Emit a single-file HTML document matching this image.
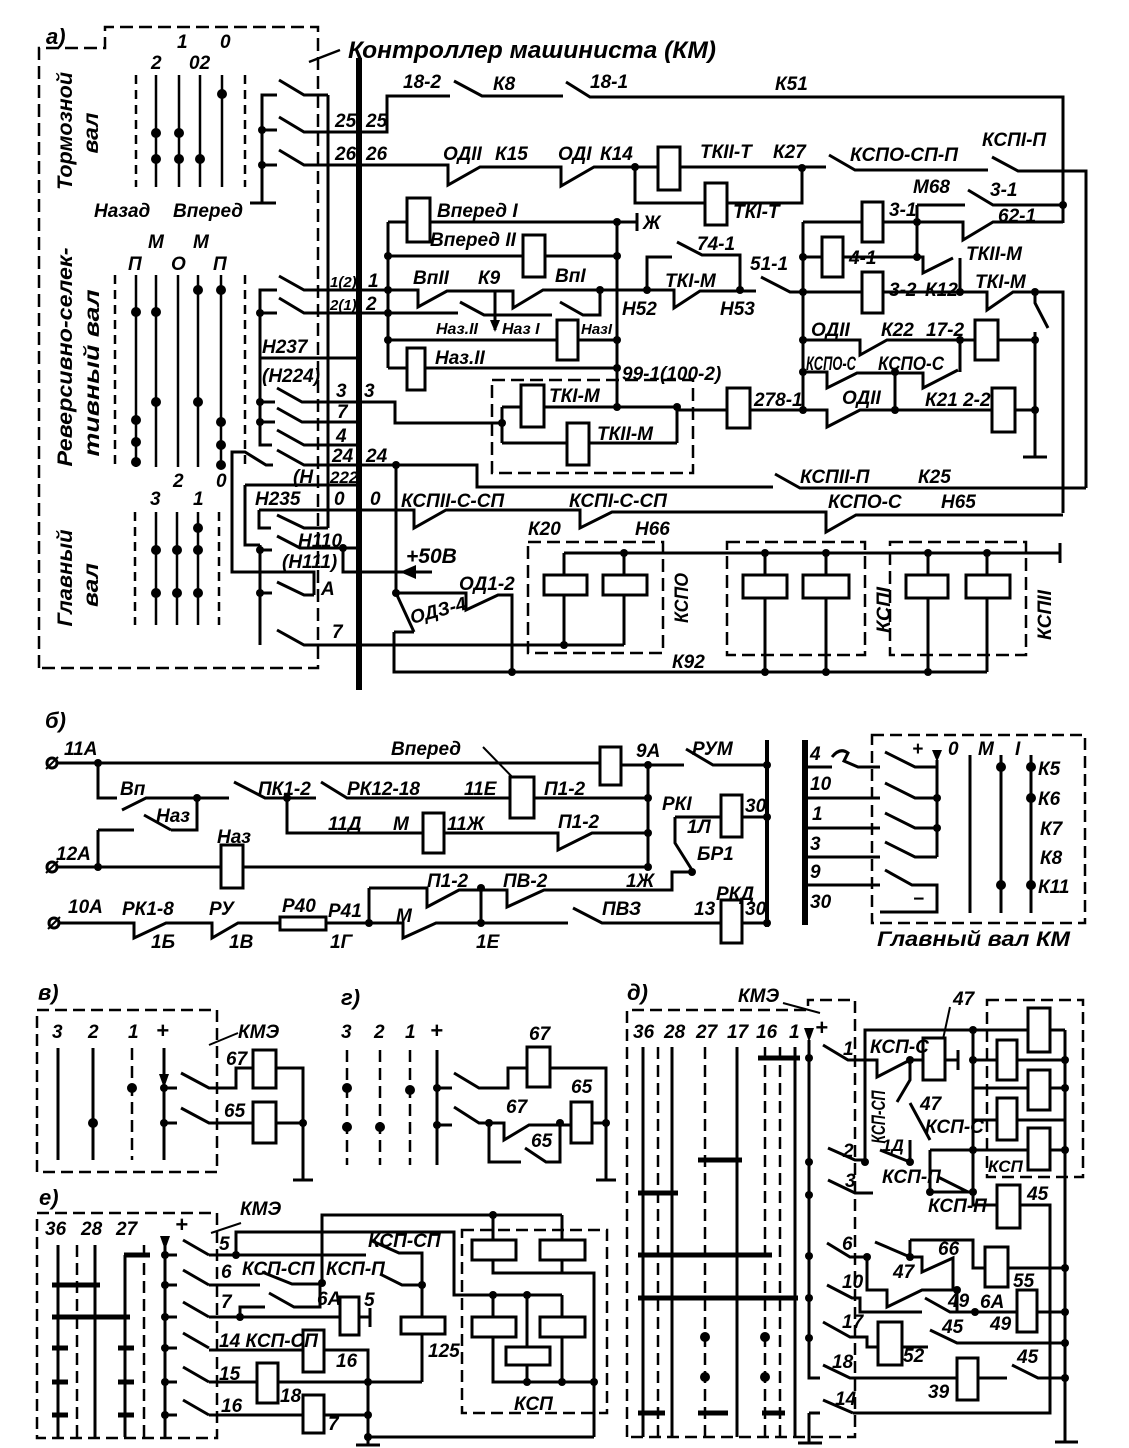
<!DOCTYPE html>
<html><head><meta charset="utf-8">
<style>
html,body{margin:0;padding:0;background:#fff;}
svg{display:block;}
text{font-family:"Liberation Sans","DejaVu Sans",sans-serif;font-style:italic;font-weight:bold;fill:#000;font-size:19px;}
.b{font-size:22px;}
</style></head><body>
<svg width="1129" height="1448" viewBox="0 0 1129 1448" xmlns="http://www.w3.org/2000/svg">
<rect width="1129" height="1448" fill="#fff"/>

<!-- ================= SECTION A ================= -->
<g fill="none" stroke="#000" stroke-width="2.5" stroke-dasharray="13 6">
  <path d="M39,668 V48 H105 V27 H318 V668 Z"/>
  <rect x="492" y="380" width="201" height="93"/>
  <rect x="528" y="542" width="135" height="111"/>
  <rect x="727" y="542" width="138" height="113"/>
  <rect x="890" y="542" width="136" height="113"/>
</g>
<g fill="none" stroke="#000" stroke-width="2.5" stroke-dasharray="9 6">
  <path d="M136,75V187 M245,75V187 M115,275V467 M245,275V467 M135,512V625 M219,512V625"/>
</g>
<g fill="none" stroke="#000" stroke-width="2.5">
  <path d="M156,75V187 M179,75V187 M200,75V187 M222,75V187"/>
  <path d="M136,275V467 M156,275V467 M178,275V467 M198,275V467 M221,275V467"/>
  <path d="M156,512V625 M177,512V625 M198,512V625"/>
  <path d="M309,62 L340,50"/>
</g>
<g fill="none" stroke="#000" stroke-width="3">
  <line x1="359" y1="58" x2="359" y2="690" stroke-width="6"/>
  <path d="M328,95V528"/>
  <path d="M277,95H262V203 M262,130H277 M262,165H277 M250,203H276"/>
  <path d="M279,80L304,95H328"/>
  <path d="M279,117L304,132H387V96H450"/>
  <path d="M454,81L482,96H563"/>
  <path d="M566,82L590,97H1063V223"/>
  <path d="M279,150L304,165H448V185L480,167H561V186L594,167H658"/>
  <path d="M680,167H826"/>
  <path d="M829,155L855,170H988"/>
  <path d="M992,157L1018,171H1086V488"/>
  <path d="M635,167V203H705 M727,203H802V167"/>
  <path d="M388,222V368 M388,222H407 M430,222H637 M637,213V231"/>
  <path d="M388,256H523 M545,256H617 M617,222V407"/>
  <path d="M277,290H260V445H272 M260,313H277 M260,358H359 M260,402H275 M260,422H275"/>
  <path d="M279,276L304,290H418V307L447,291H513V308L543,290H674V308L700,291H756"/>
  <path d="M495,290V330"/>
  <path d="M279,298L304,313H458 M460,302L484,315H552 M560,302L583,315H600V290"/>
  <path d="M388,340H557 M578,340H617"/>
  <path d="M388,368H407 M425,368H617"/>
  <path d="M647,290V257H672 M677,242L702,255H740V290"/>
  <path d="M761,277L790,292H862 M883,292H987V310L1013,292H1063V513"/>
  <path d="M1035,292V303L1048,328 M1035,332V457 M1023,457H1047"/>
  <path d="M803,222V410 M803,222H862 M883,222H963V240L993,222H1063"/>
  <path d="M917,205H965 M968,190L993,205H1063 M917,205V257"/>
  <path d="M803,257H822 M843,257H923V273L953,258 M960,258V292"/>
  <path d="M803,340H860V355L887,340H975 M998,340H1035 M960,340V372"/>
  <path d="M803,372H827V388L857,373H923V388L958,370"/>
  <path d="M895,372V410"/>
  <path d="M750,410H827V427L860,410H992 M1015,410H1035"/>
  <path d="M677,410H727"/>
  <path d="M277,388L302,402H395V423H502 M502,407V443 M502,407H521 M544,407H677V443 M502,443H567 M589,443H677"/>
  <path d="M277,408L302,422H359 M277,430L304,445H359"/>
  <path d="M277,450L304,465H477V487H773 M775,474L800,488H1086"/>
  <path d="M396,465V593"/>
  <path d="M245,485H359 M245,485V545H260 M260,545V645 M260,550H272 M260,593H272"/>
  <path d="M273,465H266L245,452H232V572H314V595 M277,582L304,595H314"/>
  <path d="M277,536L300,548H359 M343,548V572H432"/>
  <path d="M277,630L304,645H624"/>
  <path d="M259,510V528H271 M277,515L304,528H328"/>
  <path d="M259,510H414V528L446,510H580V528L612,512H826V532L856,515H1063"/>
  <path d="M396,593H466V610L498,595H512V672 M396,593L414,632 M394,632H414 M394,632V672H987"/>
  <path d="M564,553H1060 M1060,543V563 M564,553V575 M564,595V645 M624,553V575 M624,595V645"/>
  <path d="M765,553V575 M765,598V672 M826,553V575 M826,598V672 M928,553V575 M928,598V672 M987,553V575 M987,598V672"/>
</g>
<polygon points="400,572 416,565 416,579" fill="#000"/>
<polygon points="490,320 500,320 495,332" fill="#000"/>
<g fill="#fff" stroke="#000" stroke-width="3">
  <rect x="658" y="147" width="22" height="43"/>
  <rect x="705" y="183" width="22" height="42"/>
  <rect x="407" y="198" width="23" height="44"/>
  <rect x="523" y="235" width="22" height="42"/>
  <rect x="557" y="320" width="21" height="40"/>
  <rect x="407" y="348" width="18" height="42"/>
  <rect x="862" y="202" width="21" height="40"/>
  <rect x="822" y="237" width="21" height="40"/>
  <rect x="862" y="272" width="21" height="41"/>
  <rect x="975" y="320" width="23" height="40"/>
  <rect x="992" y="388" width="23" height="44"/>
  <rect x="727" y="388" width="23" height="40"/>
  <rect x="521" y="385" width="23" height="42"/>
  <rect x="567" y="423" width="22" height="42"/>
  <rect x="544" y="575" width="43" height="20"/>
  <rect x="603" y="575" width="44" height="20"/>
  <rect x="743" y="575" width="44" height="23"/>
  <rect x="803" y="575" width="46" height="23"/>
  <rect x="906" y="575" width="42" height="23"/>
  <rect x="966" y="575" width="44" height="23"/>
</g>
<g fill="#000">
  <circle cx="156" cy="133" r="5"/><circle cx="156" cy="159" r="5"/><circle cx="179" cy="133" r="5"/><circle cx="179" cy="159" r="5"/><circle cx="200" cy="159" r="5"/><circle cx="222" cy="94" r="5"/>
  <circle cx="136" cy="312" r="5"/><circle cx="136" cy="420" r="5"/><circle cx="136" cy="442" r="5"/><circle cx="136" cy="462" r="5"/><circle cx="156" cy="312" r="5"/><circle cx="156" cy="402" r="5"/><circle cx="198" cy="290" r="5"/><circle cx="198" cy="402" r="5"/><circle cx="221" cy="290" r="5"/><circle cx="221" cy="422" r="5"/><circle cx="221" cy="445" r="5"/><circle cx="221" cy="465" r="5"/>
  <circle cx="156" cy="550" r="5"/><circle cx="156" cy="593" r="5"/><circle cx="177" cy="550" r="5"/><circle cx="177" cy="593" r="5"/><circle cx="198" cy="528" r="5"/><circle cx="198" cy="550" r="5"/><circle cx="198" cy="593" r="5"/>
  <circle cx="262" cy="130" r="4"/><circle cx="262" cy="165" r="4"/><circle cx="260" cy="313" r="4"/><circle cx="260" cy="402" r="4"/><circle cx="260" cy="422" r="4"/><circle cx="260" cy="550" r="4"/><circle cx="260" cy="593" r="4"/>
  <circle cx="388" cy="256" r="4"/><circle cx="388" cy="290" r="4"/><circle cx="388" cy="313" r="4"/><circle cx="388" cy="340" r="4"/>
  <circle cx="617" cy="222" r="4"/><circle cx="617" cy="256" r="4"/><circle cx="617" cy="340" r="4"/><circle cx="617" cy="368" r="4"/><circle cx="617" cy="407" r="4"/><circle cx="600" cy="290" r="4"/><circle cx="647" cy="290" r="4"/><circle cx="740" cy="290" r="4"/>
  <circle cx="635" cy="167" r="4"/><circle cx="802" cy="168" r="4"/><circle cx="1063" cy="205" r="4"/><circle cx="917" cy="222" r="4"/><circle cx="917" cy="257" r="4"/><circle cx="960" cy="292" r="4"/>
  <circle cx="803" cy="257" r="4"/><circle cx="803" cy="292" r="4"/><circle cx="803" cy="340" r="4"/><circle cx="803" cy="372" r="4"/><circle cx="803" cy="410" r="4"/>
  <circle cx="1035" cy="292" r="4"/><circle cx="960" cy="340" r="4"/><circle cx="1035" cy="340" r="4"/><circle cx="895" cy="372" r="4"/><circle cx="895" cy="410" r="4"/><circle cx="1035" cy="410" r="4"/>
  <circle cx="677" cy="407" r="4"/><circle cx="502" cy="423" r="4"/>
  <circle cx="396" cy="465" r="4"/><circle cx="396" cy="593" r="4"/><circle cx="343" cy="548" r="4"/>
  <circle cx="512" cy="672" r="4"/><circle cx="564" cy="645" r="4"/><circle cx="624" cy="553" r="4"/><circle cx="765" cy="553" r="4"/><circle cx="826" cy="553" r="4"/><circle cx="928" cy="553" r="4"/><circle cx="987" cy="553" r="4"/>
  <circle cx="765" cy="672" r="4"/><circle cx="826" cy="672" r="4"/><circle cx="928" cy="672" r="4"/>
</g>
<text x="46" y="44" class="b">а)</text>
<text x="348" y="58" style="font-size:24px" textLength="368" lengthAdjust="spacingAndGlyphs">Контроллер машиниста (КМ)</text>
<text transform="translate(72,131) rotate(-90)" text-anchor="middle" style="font-size:21px" textLength="118" lengthAdjust="spacingAndGlyphs">Тормозной</text>
<text transform="translate(98,133) rotate(-90)" text-anchor="middle" style="font-size:21px" textLength="41" lengthAdjust="spacingAndGlyphs">вал</text>
<text transform="translate(72,357) rotate(-90)" text-anchor="middle" style="font-size:21px" textLength="219" lengthAdjust="spacingAndGlyphs">Реверсивно-селек-</text>
<text transform="translate(99,373) rotate(-90)" text-anchor="middle" style="font-size:21px" textLength="167" lengthAdjust="spacingAndGlyphs">тивный вал</text>
<text transform="translate(72,578) rotate(-90)" text-anchor="middle" style="font-size:21px" textLength="97" lengthAdjust="spacingAndGlyphs">Главный</text>
<text transform="translate(98,585) rotate(-90)" text-anchor="middle" style="font-size:21px" textLength="44" lengthAdjust="spacingAndGlyphs">вал</text>
<text x="177" y="48">1</text><text x="220" y="48">0</text><text x="151" y="69">2</text><text x="189" y="69">02</text>
<text x="94" y="217">Назад</text><text x="173" y="217">Вперед</text>
<text x="148" y="248">М</text><text x="193" y="248">М</text><text x="128" y="270">П</text><text x="171" y="270">О</text><text x="213" y="270">П</text>
<text x="173" y="487">2</text><text x="216" y="487">0</text><text x="150" y="505">3</text><text x="193" y="505">1</text>
<text x="335" y="127">25</text><text x="366" y="127">25</text><text x="335" y="160">26</text><text x="366" y="160">26</text>
<text x="330" y="287" style="font-size:15px">1(2)</text><text x="368" y="287">1</text>
<text x="330" y="310" style="font-size:15px">2(1)</text><text x="366" y="310">2</text>
<text x="262" y="353">Н237</text><text x="262" y="382">(Н224)</text>
<text x="336" y="397">3</text><text x="364" y="397">3</text><text x="337" y="418">7</text><text x="336" y="442">4</text>
<text x="332" y="462">24</text><text x="366" y="462">24</text>
<text x="293" y="483">(Н</text><text x="330" y="483" style="font-size:17px">222</text>
<text x="255" y="505">Н235</text><text x="334" y="505">0</text><text x="370" y="505">0</text>
<text x="298" y="547">Н110</text><text x="282" y="568">(Н111)</text><text x="321" y="595">А</text><text x="332" y="638">7</text>
<text x="403" y="88">18-2</text><text x="493" y="90">К8</text><text x="590" y="88">18-1</text><text x="775" y="90">К51</text>
<text x="443" y="160">ОДII</text><text x="495" y="160">К15</text><text x="558" y="160">ОДI</text><text x="600" y="160">К14</text>
<text x="700" y="158">ТКII-Т</text><text x="773" y="158">К27</text><text x="850" y="161" textLength="108" lengthAdjust="spacingAndGlyphs">КСПО-СП-П</text><text x="982" y="146">КСПI-П</text>
<text x="733" y="218">ТКI-Т</text><text x="643" y="229">Ж</text>
<text x="913" y="193">М68</text><text x="990" y="196">3-1</text><text x="889" y="216">3-1</text><text x="998" y="222">62-1</text>
<text x="966" y="260">ТКII-М</text><text x="849" y="264">4-1</text><text x="889" y="296">3-2</text><text x="925" y="296">К12</text><text x="975" y="288">ТКI-М</text>
<text x="750" y="270">51-1</text><text x="697" y="250">74-1</text><text x="665" y="287">ТКI-М</text><text x="622" y="315">Н52</text><text x="720" y="315">Н53</text>
<text x="437" y="217">Вперед I</text><text x="430" y="246">Вперед II</text>
<text x="413" y="284">ВпII</text><text x="478" y="284">К9</text><text x="555" y="282">ВпI</text>
<text x="436" y="334" style="font-size:16px">Наз.II</text><text x="502" y="334" style="font-size:16px">Наз I</text><text x="581" y="334" style="font-size:15px">НазI</text>
<text x="435" y="364">Наз.II</text>
<text x="622" y="380">99-1(100-2)</text><text x="549" y="402">ТКI-М</text><text x="597" y="440">ТКII-М</text><text x="754" y="406">278-1</text>
<text x="811" y="336">ОДII</text><text x="881" y="336">К22</text><text x="926" y="336">17-2</text>
<text x="806" y="370" textLength="50" lengthAdjust="spacingAndGlyphs">КСПО-С</text><text x="878" y="370" textLength="66" lengthAdjust="spacingAndGlyphs">КСПО-С</text>
<text x="842" y="404">ОДII</text><text x="925" y="406">К21 2-2</text>
<text x="800" y="483">КСПII-П</text><text x="918" y="483">К25</text>
<text x="401" y="507">КСПII-С-СП</text><text x="569" y="507">КСПI-С-СП</text><text x="828" y="508">КСПО-С</text><text x="941" y="508">Н65</text>
<text x="528" y="535">К20</text><text x="635" y="535">Н66</text>
<text x="406" y="563" style="font-size:21px">+50В</text><text x="459" y="590">ОД1-2</text>
<text transform="translate(412,624) rotate(-15)">ОДЗ-4</text>
<text x="672" y="668">К92</text>
<text transform="translate(688,598) rotate(-90)" text-anchor="middle" textLength="50" lengthAdjust="spacingAndGlyphs">КСПО</text>
<text transform="translate(890,610) rotate(-90)" text-anchor="middle" textLength="46" lengthAdjust="spacingAndGlyphs">КСПI</text>
<text transform="translate(1051,615) rotate(-90)" text-anchor="middle" textLength="50" lengthAdjust="spacingAndGlyphs">КСПII</text>

<!-- ================= SECTION B ================= -->
<g fill="none" stroke="#000" stroke-width="3">
  <path d="M56,763H600 M621,765H684 M686,749L713,765H767"/>
  <line x1="767" y1="740" x2="767" y2="927" stroke-width="4"/>
  <path d="M98,762V798H117 M122,810L146,798H229 M197,798V830H171 M144,815L171,830"/>
  <path d="M98,830H134 M98,830V867"/>
  <path d="M234,782L265,798H316 M321,782L347,798H510 M534,798H648"/>
  <path d="M648,765V867"/>
  <path d="M287,798V833H423 M444,833H558V850L592,833H648"/>
  <path d="M56,867H221 M243,867H648"/>
  <path d="M675,817H721 M742,817H767 M675,817V843L692,870 M369,888H427V907L459,890H507V907L544,890H672V872H692"/>
  <path d="M58,923H134V938L166,923H212V938L238,923H280 M326,923H403V938L436,923H568"/>
  <path d="M369,888V923 M481,888V923"/>
  <path d="M573,908L602,923H721 M742,923H767"/>
</g>
<g fill="none" stroke="#000" stroke-width="2"><path d="M483,747L520,785"/></g>
<g fill="#fff" stroke="#000" stroke-width="3">
  <circle cx="52" cy="763" r="5"/><circle cx="52" cy="867" r="5"/><circle cx="54" cy="923" r="5"/>
  <rect x="600" y="747" width="21" height="38"/>
  <rect x="510" y="777" width="24" height="41"/>
  <rect x="423" y="813" width="21" height="40"/>
  <rect x="221" y="845" width="22" height="43"/>
  <rect x="721" y="795" width="21" height="42"/>
  <rect x="280" y="917" width="46" height="13"/>
  <rect x="721" y="900" width="21" height="43"/>
</g>
<g fill="none" stroke="#000" stroke-width="2"><path d="M46,769L58,757 M46,873L58,861 M48,929L60,917"/></g>
<g fill="#000">
  <circle cx="98" cy="763" r="4"/><circle cx="648" cy="765" r="4"/><circle cx="767" cy="765" r="4"/><circle cx="197" cy="798" r="4"/><circle cx="287" cy="798" r="4"/><circle cx="648" cy="798" r="4"/><circle cx="648" cy="833" r="4"/><circle cx="98" cy="867" r="4"/><circle cx="648" cy="867" r="4"/><circle cx="767" cy="817" r="4"/><circle cx="692" cy="872" r="4"/><circle cx="369" cy="923" r="4"/><circle cx="481" cy="888" r="4"/><circle cx="481" cy="923" r="4"/><circle cx="767" cy="923" r="4"/>
</g>
<text x="45" y="728" class="b">б)</text>
<text x="64" y="755">11А</text><text x="56" y="860">12А</text><text x="68" y="913">10А</text>
<text x="120" y="795">Вп</text><text x="156" y="822">Наз</text>
<text x="258" y="795">ПК1-2</text><text x="347" y="795">РК12-18</text><text x="464" y="795">11Е</text><text x="544" y="795">П1-2</text>
<text x="391" y="755">Вперед</text><text x="636" y="757">9А</text><text x="692" y="755">РУМ</text>
<text x="328" y="830">11Д</text><text x="393" y="830">М</text><text x="447" y="830">11Ж</text><text x="558" y="828">П1-2</text>
<text x="217" y="843">Наз</text>
<text x="662" y="810">РКI</text><text x="745" y="812">30</text><text x="687" y="833">1Л</text><text x="697" y="860">БР1</text>
<text x="626" y="887">1Ж</text><text x="427" y="887">П1-2</text><text x="503" y="887">ПВ-2</text>
<text x="122" y="915">РК1-8</text><text x="209" y="915">РУ</text><text x="282" y="912">Р40</text><text x="328" y="917">Р41</text><text x="396" y="922">М</text>
<text x="151" y="948">1Б</text><text x="229" y="948">1В</text><text x="330" y="948">1Г</text><text x="476" y="948">1Е</text>
<text x="602" y="915">ПВЗ</text><text x="694" y="915">13</text><text x="716" y="900">РКД</text><text x="745" y="915">30</text>

<g fill="none" stroke="#000" stroke-width="2.5" stroke-dasharray="12 6"><rect x="872" y="735" width="213" height="188"/></g>
<g fill="none" stroke="#000" stroke-width="3">
  <line x1="805" y1="740" x2="805" y2="925" stroke-width="6"/>
  <path d="M805,767H832 M832,757 q8,-10 16,-4 l-4,8 l14,6 H880 M805,798H880 M805,828H880 M805,857H880 M805,885H880"/>
  <path d="M885,752L915,767H937 M885,783L915,798H937 M885,813L915,828H937 M885,842L915,857H937 M937,760V857"/>
  <path d="M885,870L912,885H937V912H880"/>
  <path d="M970,755V913 M1001,755V913 M1031,755V913"/>
</g>
<polygon points="932,750 942,750 937,762" fill="#000"/>
<g fill="#000"><circle cx="937" cy="798" r="4"/><circle cx="937" cy="828" r="4"/><circle cx="1001" cy="767" r="5"/><circle cx="1001" cy="885" r="5"/><circle cx="1031" cy="767" r="5"/><circle cx="1031" cy="798" r="5"/><circle cx="1031" cy="885" r="5"/></g>
<text x="810" y="760">4</text><text x="810" y="790">10</text><text x="812" y="820">1</text><text x="810" y="850">3</text><text x="810" y="878">9</text><text x="810" y="908">30</text>
<text x="912" y="755">+</text><text x="948" y="755">0</text><text x="978" y="755">М</text><text x="1015" y="755">I</text>
<text x="913" y="905">−</text>
<text x="1038" y="775">К5</text><text x="1038" y="805">К6</text><text x="1040" y="835">К7</text><text x="1040" y="864">К8</text><text x="1038" y="893">К11</text>
<text x="877" y="946" style="font-size:21px" textLength="193" lengthAdjust="spacingAndGlyphs">Главный вал КМ</text>

<!-- ================= SECTION V / G ================= -->
<g fill="none" stroke="#000" stroke-width="2.5" stroke-dasharray="12 6"><rect x="37" y="1010" width="180" height="162"/>
<path d="M132,1048V1160 M347,1050V1165 M380,1050V1165 M410,1050V1165"/></g>
<g fill="none" stroke="#000" stroke-width="3">
  <path d="M58,1048V1160 M93,1048V1160 M164,1048V1160 M164,1088H177 M164,1123H177"/>
  <path d="M181,1073L209,1088H236V1068H253 M276,1068H303V1180 M293,1180H313"/>
  <path d="M181,1108L209,1123H253 M276,1123H303"/>
  <path d="M437,1050V1165 M437,1088H452 M437,1125H452"/>
  <path d="M454,1073L479,1088H508V1068H527 M550,1068H606V1180 M596,1180H616"/>
  <path d="M454,1107L479,1123H504V1140L529,1125H571 M592,1123H606"/>
  <path d="M489,1123V1162H521 M525,1148L546,1162H560V1123"/>
</g>
<g fill="none" stroke="#000" stroke-width="2"><path d="M209,1045L238,1033"/></g>
<polygon points="159,1074 169,1074 164,1088" fill="#000"/>
<g fill="#fff" stroke="#000" stroke-width="3">
  <rect x="253" y="1050" width="23" height="38"/><rect x="253" y="1102" width="23" height="41"/>
  <rect x="527" y="1047" width="23" height="40"/><rect x="571" y="1102" width="21" height="41"/>
</g>
<g fill="#000">
  <circle cx="93" cy="1123" r="5"/><circle cx="132" cy="1088" r="5"/><circle cx="164" cy="1088" r="4"/><circle cx="164" cy="1123" r="4"/><circle cx="303" cy="1123" r="4"/>
  <circle cx="347" cy="1088" r="5"/><circle cx="347" cy="1127" r="5"/><circle cx="380" cy="1127" r="5"/><circle cx="410" cy="1090" r="5"/><circle cx="437" cy="1088" r="4"/><circle cx="437" cy="1125" r="4"/>
  <circle cx="489" cy="1123" r="4"/><circle cx="560" cy="1123" r="4"/><circle cx="606" cy="1123" r="4"/>
</g>
<text x="38" y="1000" class="b">в)</text>
<text x="52" y="1038">3</text><text x="88" y="1038">2</text><text x="128" y="1038">1</text><text x="156" y="1038" class="b">+</text>
<text x="238" y="1038">КМЭ</text><text x="226" y="1065">67</text><text x="224" y="1117">65</text>
<text x="341" y="1005" class="b">г)</text>
<text x="341" y="1038">3</text><text x="374" y="1038">2</text><text x="405" y="1038">1</text><text x="430" y="1038" class="b">+</text>
<text x="529" y="1040">67</text><text x="571" y="1093">65</text><text x="506" y="1113">67</text><text x="531" y="1147">65</text>

<!-- ================= SECTION E ================= -->
<g fill="none" stroke="#000" stroke-width="2.5" stroke-dasharray="12 6">
  <rect x="37" y="1213" width="180" height="225"/>
  <rect x="462" y="1230" width="145" height="183"/>
  <path d="M77,1245V1437 M144,1245V1437"/>
</g>
<g fill="none" stroke="#000" stroke-width="3">
  <path d="M58,1245V1437 M95,1245V1437 M125,1255V1437"/>
  <path d="M165,1245V1437 M165,1255H177 M165,1285H177 M165,1317H177 M165,1348H177 M165,1382H177 M165,1415H177"/>
  <path d="M183,1240L209,1255 M183,1270L209,1285 M183,1302L209,1317 M183,1333L209,1348 M183,1367L209,1382 M183,1400L209,1415"/>
  <path d="M209,1255H366 M370,1240L399,1253H422V1317 M422,1334V1382 M368,1382H422"/>
  <path d="M236,1255V1232H454V1295H562"/>
  <path d="M322,1283V1215H562 M493,1215V1240 M562,1215V1240 M493,1260V1273H594V1437 M562,1260V1273"/>
  <path d="M493,1295V1317 M562,1295V1317 M527,1295V1347 M493,1337V1382H594 M562,1337V1382 M527,1365V1382"/>
  <path d="M209,1285H260 M262,1272L292,1284H322 M380,1274L402,1285H422"/>
  <path d="M209,1317H340 M240,1317V1307H265 M269,1293L294,1307H320V1283 M359,1317H370 M370,1308V1327"/>
  <path d="M209,1350H303 M324,1350H368V1437"/>
  <path d="M209,1382H257 M278,1382H368"/>
  <path d="M209,1415H303 M324,1415H368"/>
  <path d="M368,1437H594 M368,1437V1445 M356,1445H380"/>
</g>
<g fill="none" stroke="#000" stroke-width="5">
  <path d="M124,1255H150 M52,1285H100 M52,1317H130 M52,1348H68 M118,1348H134 M52,1382H68 M118,1382H134 M52,1415H68 M118,1415H134"/>
</g>
<g fill="none" stroke="#000" stroke-width="2"><path d="M211,1233L241,1223"/></g>
<polygon points="160,1236 170,1236 165,1250" fill="#000"/>
<g fill="#fff" stroke="#000" stroke-width="3">
  <rect x="472" y="1240" width="44" height="20"/><rect x="540" y="1240" width="45" height="20"/>
  <rect x="472" y="1317" width="44" height="20"/><rect x="540" y="1317" width="45" height="20"/>
  <rect x="506" y="1347" width="44" height="18"/>
  <rect x="401" y="1317" width="44" height="17"/>
  <rect x="340" y="1297" width="19" height="38"/>
  <rect x="303" y="1330" width="21" height="42"/>
  <rect x="257" y="1363" width="21" height="40"/>
  <rect x="303" y="1395" width="21" height="38"/>
</g>
<g fill="#000">
  <circle cx="165" cy="1255" r="4"/><circle cx="165" cy="1285" r="4"/><circle cx="165" cy="1317" r="4"/><circle cx="165" cy="1348" r="4"/><circle cx="165" cy="1382" r="4"/><circle cx="165" cy="1415" r="4"/>
  <circle cx="236" cy="1255" r="4"/><circle cx="240" cy="1317" r="4"/><circle cx="322" cy="1283" r="4"/><circle cx="422" cy="1285" r="4"/>
  <circle cx="493" cy="1215" r="4"/><circle cx="493" cy="1295" r="4"/><circle cx="527" cy="1295" r="4"/><circle cx="527" cy="1382" r="4"/><circle cx="562" cy="1382" r="4"/><circle cx="594" cy="1382" r="4"/>
  <circle cx="368" cy="1382" r="4"/><circle cx="368" cy="1415" r="4"/><circle cx="368" cy="1437" r="4"/>
</g>
<text x="39" y="1205" class="b">е)</text>
<text x="240" y="1215">КМЭ</text>
<text x="45" y="1235">36</text><text x="81" y="1235">28</text><text x="116" y="1235">27</text><text x="175" y="1232" class="b">+</text>
<text x="219" y="1250">5</text><text x="368" y="1247">КСП-СП</text>
<text x="221" y="1278">6</text><text x="242" y="1275">КСП-СП</text><text x="326" y="1275">КСП-П</text>
<text x="317" y="1305">6А</text><text x="364" y="1306">5</text><text x="221" y="1308">7</text>
<text x="219" y="1347">14 КСП-СП</text><text x="336" y="1367">16</text><text x="428" y="1357">125</text>
<text x="219" y="1380">15</text><text x="280" y="1402">18</text><text x="221" y="1412">16</text><text x="328" y="1430">7</text>
<text x="514" y="1410">КСП</text>

<!-- ================= SECTION D ================= -->
<g fill="none" stroke="#000" stroke-width="2.5" stroke-dasharray="12 6">
  <path d="M627,1437V1010H808V1000H855V1437Z"/>
  <rect x="987" y="1000" width="96" height="177"/>
  <path d="M658,1047V1437 M705,1047V1437 M765,1047V1437 M780,1047V1437"/>
</g>
<g fill="none" stroke="#000" stroke-width="3">
  <path d="M643,1047V1437 M672,1047V1437 M737,1047V1437 M795,1047V1437"/>
  <path d="M809,1040V1378H820 M809,1413V1443 M798,1443H822 M809,1413H820"/>
  <path d="M823,1045L848,1060H877V1077L910,1060H923 M945,1060H958 M958,1050V1070"/>
  <path d="M865,1060V1030H1065 M865,1030V1162"/>
  <path d="M910,1060V1080L897,1102 M910,1103L930,1140"/>
  <path d="M828,1148L855,1160H865 M880,1150L910,1162 M910,1140V1162"/>
  <path d="M930,1150H973V1192 M930,1150V1192H973 M938,1177L968,1192 M973,1192V1205H997 M1020,1205H1050V1413H853 M823,1400L853,1413"/>
  <path d="M828,1180L855,1193H873"/>
  <path d="M973,1030V1150 M973,1060H1065 M973,1088H1065 M973,1120H1065 M973,1150H1065 M1065,1030V1442 M1055,1442H1078"/>
  <path d="M827,1243L850,1257H867V1290H887V1307L922,1290H957"/>
  <path d="M875,1242L910,1257 M910,1240V1257H922V1272L953,1258V1290 M910,1240H973V1268H985 M1008,1268H1065"/>
  <path d="M827,1285L852,1298H860V1312H922 M925,1298L950,1312H1017 M1037,1312H1065 M957,1290V1312"/>
  <path d="M823,1322L850,1337H867V1347H878 M902,1347H928"/>
  <path d="M930,1330L957,1343H1065"/>
  <path d="M823,1365L850,1378H957 M978,1378H1007 M1012,1365L1038,1378H1065"/>
</g>
<g fill="none" stroke="#000" stroke-width="5">
  <path d="M758,1058H800 M698,1160H742 M638,1193H678 M638,1255H772 M638,1298H798 M638,1413H665 M698,1413H728 M762,1413H785"/>
</g>
<g fill="none" stroke="#000" stroke-width="2"><path d="M783,1003L820,1013 M950,1007L940,1053"/></g>
<polygon points="804,1028 814,1028 809,1042" fill="#000"/>
<g fill="#fff" stroke="#000" stroke-width="3">
  <rect x="1028" y="1008" width="22" height="44"/>
  <rect x="997" y="1040" width="20" height="40"/>
  <rect x="1028" y="1070" width="22" height="40"/>
  <rect x="997" y="1098" width="20" height="42"/>
  <rect x="1028" y="1128" width="22" height="42"/>
  <rect x="923" y="1038" width="22" height="42"/>
  <rect x="997" y="1185" width="23" height="43"/>
  <rect x="985" y="1247" width="23" height="40"/>
  <rect x="1017" y="1290" width="20" height="42"/>
  <rect x="878" y="1322" width="24" height="43"/>
  <rect x="957" y="1358" width="21" height="42"/>
</g>
<g fill="#000">
  <circle cx="705" cy="1337" r="5"/><circle cx="705" cy="1377" r="5"/><circle cx="765" cy="1337" r="5"/><circle cx="765" cy="1377" r="5"/>
  <circle cx="809" cy="1058" r="4"/><circle cx="809" cy="1162" r="4"/><circle cx="809" cy="1195" r="4"/><circle cx="809" cy="1256" r="4"/><circle cx="809" cy="1298" r="4"/><circle cx="809" cy="1338" r="4"/>
  <circle cx="910" cy="1060" r="4"/><circle cx="865" cy="1162" r="4"/><circle cx="910" cy="1162" r="4"/><circle cx="930" cy="1192" r="4"/><circle cx="973" cy="1192" r="4"/>
  <circle cx="973" cy="1030" r="4"/><circle cx="973" cy="1060" r="4"/><circle cx="973" cy="1150" r="4"/>
  <circle cx="1065" cy="1060" r="4"/><circle cx="1065" cy="1088" r="4"/><circle cx="1065" cy="1150" r="4"/><circle cx="1065" cy="1268" r="4"/><circle cx="1065" cy="1312" r="4"/><circle cx="1065" cy="1343" r="4"/><circle cx="1065" cy="1378" r="4"/>
  <circle cx="867" cy="1257" r="4"/><circle cx="910" cy="1257" r="4"/><circle cx="957" cy="1290" r="4"/><circle cx="975" cy="1312" r="4"/>
</g>
<text x="627" y="1000" class="b">д)</text><text x="738" y="1002">КМЭ</text>
<text x="633" y="1038">36</text><text x="664" y="1038">28</text><text x="696" y="1038">27</text><text x="727" y="1038">17</text><text x="756" y="1038">16</text><text x="789" y="1038">1</text><text x="815" y="1035" class="b">+</text>
<text x="843" y="1055">1</text><text x="870" y="1053">КСП-С</text><text x="953" y="1005">47</text>
<text transform="translate(885,1117) rotate(-90)" text-anchor="middle" textLength="53" lengthAdjust="spacingAndGlyphs">КСП-СП</text>
<text x="920" y="1110">47</text><text x="925" y="1133">КСП-С</text>
<text x="843" y="1157">2</text><text x="882" y="1151" style="font-size:17px">1Д</text><text x="882" y="1183">КСП-П</text><text x="845" y="1187">3</text><text x="928" y="1212">КСП-П</text>
<text x="988" y="1172" style="font-size:17px">КСП</text><text x="1027" y="1200">45</text>
<text x="842" y="1250">6</text><text x="938" y="1255">66</text><text x="893" y="1278">47</text><text x="1013" y="1287">55</text>
<text x="842" y="1288">10</text><text x="948" y="1307">49</text><text x="980" y="1308">6А</text><text x="990" y="1330">49</text>
<text x="842" y="1328">17</text><text x="942" y="1333">45</text><text x="903" y="1362">52</text>
<text x="832" y="1368">18</text><text x="1017" y="1363">45</text><text x="928" y="1398">39</text><text x="835" y="1405">14</text>
</svg>
</body></html>
